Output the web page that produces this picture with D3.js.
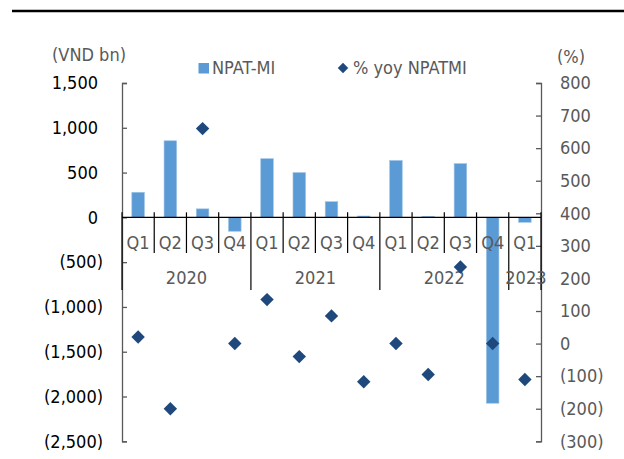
<!DOCTYPE html>
<html>
<head>
<meta charset="utf-8">
<script src="https://cdn.jsdelivr.net/npm/d3@7"></script>
<style>
  html, body { margin: 0; padding: 0; background: #fff; }
  svg { display: block; }
  text { font-family: "DejaVu Sans Condensed", "DejaVu Sans", sans-serif; }
</style>
</head>
<body>
<svg id="chart" width="624" height="459"></svg>
<script>
// Quarterly NPAT-MI (VND bn) and its year-on-year change (%)
const quarters = ["Q1","Q2","Q3","Q4","Q1","Q2","Q3","Q4","Q1","Q2","Q3","Q4","Q1"];
const years = ["2020","2021","2022","2023"];
const quartersPerYear = [4, 4, 4, 1];
const npatMI = [280, 855, 95, -155, 655, 500, 175, 15, 635, 12, 600, -2075, -55];
const yoyNpatMI = [20, -200, 660, 0, 135, -40, 85, -117, 0, -95, 235, 0, -110];
const leftTicks = [1500, 1000, 500, 0, -500, -1000, -1500, -2000, -2500];
const rightTicks = [800, 700, 600, 500, 400, 300, 200, 100, 0, -100, -200, -300];

const svg = d3.select("#chart");
const plotLeft = 122, plotRight = 541, plotTop = 83, plotBottom = 441.3;
const grey = "#595959", barBlue = "#5B9BD5", diamondBlue = "#1F497D";
const fs = 18;

const x = d3.scaleBand().domain(d3.range(quarters.length))
  .range([plotLeft, plotRight]).paddingInner(0.61).paddingOuter(0.305);
const yL = d3.scaleLinear().domain([-2500, 1500]).range([plotBottom, plotTop]);
const yR = d3.scaleLinear().domain([-300, 800]).range([plotBottom, plotTop]);

const fmt = d3.format(",");
const acct = v => v < 0 ? `(${fmt(-v)})` : fmt(v);

// rule across the top
svg.append("line").attr("x1", 12).attr("x2", 624).attr("y1", 11).attr("y2", 11)
  .attr("stroke", "#000").attr("stroke-width", 2.5);

// axis titles
svg.append("text").attr("x", 89).attr("y", 55).attr("dy", "0.35em")
  .attr("text-anchor", "middle").attr("fill", grey).attr("font-size", fs).text("(VND bn)");
svg.append("text").attr("x", 571).attr("y", 57).attr("dy", "0.35em")
  .attr("text-anchor", "middle").attr("fill", grey).attr("font-size", fs).text("(%)");

// legend
const lg = svg.append("g");
lg.append("rect").attr("x", 198.5).attr("y", 63).attr("width", 10.5).attr("height", 10.5).attr("fill", barBlue);
lg.append("text").attr("x", 212).attr("y", 68).attr("dy", "0.35em").attr("fill", grey)
  .attr("font-size", fs).text("NPAT-MI");
lg.append("path").attr("d", d3.symbol(d3.symbolDiamond2, 70)())
  .attr("transform", "translate(343,68)").attr("fill", diamondBlue);
lg.append("text").attr("x", 353).attr("y", 68).attr("dy", "0.35em").attr("fill", grey)
  .attr("font-size", fs).text("% yoy NPATMI");

// left axis
const gL = svg.append("g").attr("transform", `translate(${plotLeft},0)`)
  .call(d3.axisLeft(yL).tickValues(leftTicks).tickSize(-5).tickPadding(19).tickFormat(acct));
gL.select(".domain").attr("stroke", grey).attr("stroke-width", 1.3);
gL.selectAll(".tick line").attr("stroke", grey).attr("stroke-width", 1.3);
gL.selectAll(".tick text").attr("font-size", fs).attr("fill", "#000")
  .attr("font-family", null)
  .attr("dx", d => d < 0 ? 0 : -5);

// right axis
const gR = svg.append("g").attr("transform", `translate(${plotRight},0)`)
  .call(d3.axisRight(yR).tickValues(rightTicks).tickSize(-5).tickPadding(19).tickFormat(acct));
gR.select(".domain").attr("stroke", grey).attr("stroke-width", 1.3);
gR.selectAll(".tick line").attr("stroke", grey).attr("stroke-width", 1.3);
gR.selectAll(".tick text").attr("font-size", fs).attr("fill", grey).attr("font-family", null);

// bars
svg.append("g").selectAll("rect").data(npatMI).join("rect")
  .attr("x", (d, i) => x(i))
  .attr("width", x.bandwidth())
  .attr("y", d => Math.min(yL(d), yL(0)))
  .attr("height", d => Math.abs(yL(d) - yL(0)))
  .attr("fill", barBlue)
  .attr("stroke", "#9DC3E6").attr("stroke-width", 0.6);

// category axis
const y0 = yL(0);
const gX = svg.append("g").attr("transform", `translate(0,${y0})`)
  .call(d3.axisBottom(x).tickSize(0).tickPadding(0).tickFormat(i => quarters[i]));
gX.select(".domain").remove();
gX.selectAll(".tick text").attr("font-size", fs).attr("fill", grey).attr("font-family", null)
  .attr("y", 25).attr("dy", "0.35em");

svg.append("line").attr("x1", plotLeft).attr("x2", plotRight).attr("y1", y0).attr("y2", y0)
  .attr("stroke", "#000").attr("stroke-width", 1.3);

// quarter and year separators
const edge = i => x.range()[0] + i * x.step();
const yearStarts = [];
let acc = 0;
quartersPerYear.forEach(n => { yearStarts.push(acc); acc += n; });
yearStarts.push(acc);
d3.range(quarters.length + 1).forEach(i => {
  const isYear = yearStarts.includes(i);
  svg.append("line").attr("x1", edge(i)).attr("x2", edge(i))
    .attr("y1", y0 - 5).attr("y2", isYear ? 290 : 253)
    .attr("stroke", "#000").attr("stroke-width", 1.2);
});

// year labels
years.forEach((yr, k) => {
  const a = edge(yearStarts[k]), b = edge(yearStarts[k + 1]);
  svg.append("text").attr("x", (a + b) / 2 + (k === 3 ? 1 : 0)).attr("y", 278).attr("dy", "0.35em")
    .attr("text-anchor", "middle").attr("fill", grey).attr("font-size", fs).text(yr);
});

// yoy diamonds
svg.append("g").selectAll("path").data(yoyNpatMI).join("path")
  .attr("d", d3.symbol(d3.symbolDiamond2, 115)())
  .attr("transform", (d, i) => `translate(${x(i) + x.bandwidth() / 2},${yR(d)})`)
  .attr("fill", diamondBlue);
</script>
</body>
</html>
